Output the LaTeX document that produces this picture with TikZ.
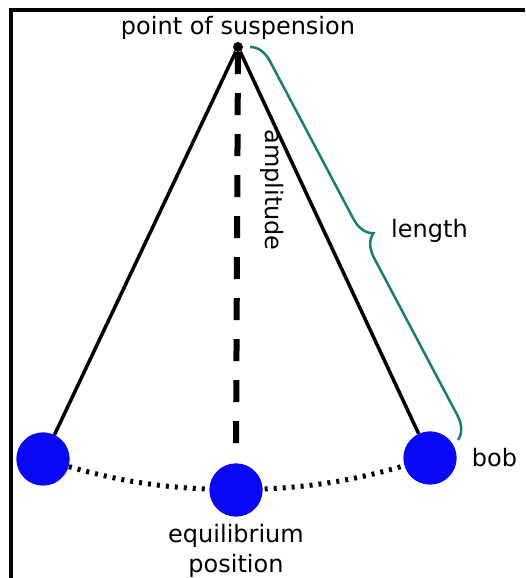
\documentclass[tikz,border=0pt]{standalone}
\usepackage{fontspec}
\setmainfont{DejaVu Sans}
\usetikzlibrary{positioning,decorations.pathreplacing}
\definecolor{BobBlue}{RGB}{8,8,245}
\definecolor{BraceTeal}{RGB}{25,125,115}

\begin{document}
\begin{tikzpicture}[
x=1pt,y=1pt,
node distance=6pt,
bob/.style={
circle,
fill=BobBlue,
inner sep=0pt,
minimum size=53pt
},
rod/.style={
line width=3.5pt,
draw=black
},
lbl/.style={
font=\fontsize{24}{30}\selectfont,
inner sep=1pt,
align=center
},
bracket/.style={
decorate,
decoration={brace,amplitude=22pt,aspect=0.5},
line width=2.5pt,
draw=BraceTeal
}
]

% page and frame
\useasboundingbox[fill=white] (0,0) rectangle (525,578);
\draw[line width=4pt] (10.5,0) -- (10.5,567.5) -- (525,567.5);

% pendulum
\node[circle,fill=black,inner sep=0pt,minimum size=10pt] (pivot) at (238,531) {};
\coordinate (top) at (250,531);
\coordinate (bottom) at (458,138);

\node[bob] (lbob) at (43,119) {};
\node[bob] (cbob) at (236,88) {};
\node[bob] (rbob) at (430,120) {};

\draw[line width=5pt,dash pattern=on 3pt off 6pt]
(lbob.center) to[bend right=8] (cbob.center) to[bend right=8] (rbob.center);
\node[bob] at (lbob) {};
\node[bob] at (cbob) {};
\node[bob] at (rbob) {};

\draw[rod] (pivot) -- (lbob);
\draw[rod] (pivot) -- (rbob);
\draw[line width=6pt,dash pattern=on 22pt off 19pt] (pivot) -- ([yshift=12pt]cbob.north);

\draw[bracket] (top) -- (bottom);

% labels
\node[lbl,above=1pt of pivot] (susp) {point of suspension};
\node[lbl,rotate=-90] (ampl) at (272,388) {amplitude};
\node[lbl,anchor=west] (len) at (390,347) {length};
\node[lbl,right=14pt of rbob] (boblbl) {bob};
\node[lbl,below=6pt of cbob] (equi) {equilibrium\\position};

\end{tikzpicture}
\end{document}
